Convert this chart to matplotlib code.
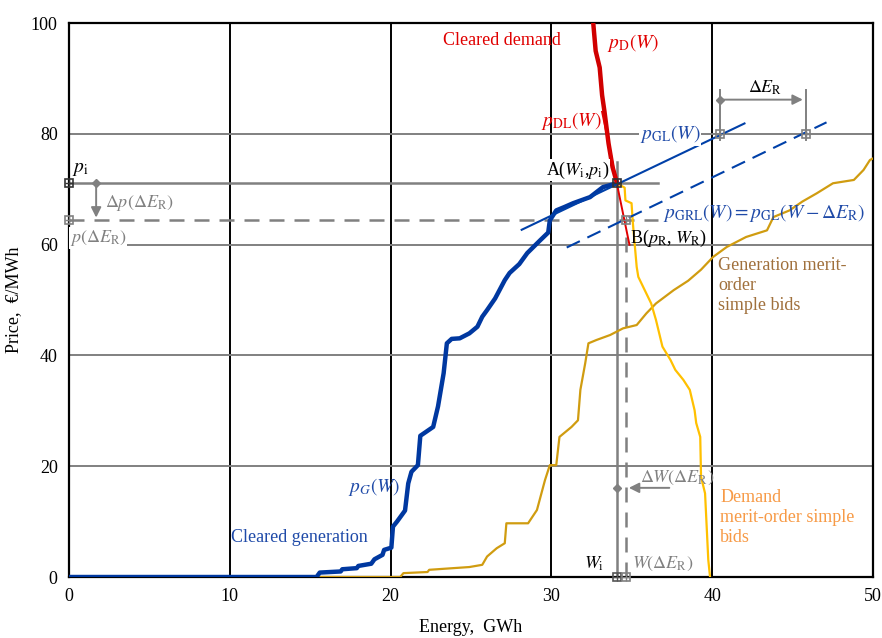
import matplotlib
matplotlib.use("Agg")
import matplotlib.pyplot as plt

plt.rcParams['font.family'] = ['Liberation Serif', 'DejaVu Serif']
plt.rcParams['mathtext.fontset'] = 'stix'

# ---------------- data ----------------
gen_cleared_x = [0, 15.4, 15.6, 16.9, 17.0, 17.9, 18.0, 18.8, 19.0, 19.5, 19.6, 20.05, 20.15, 20.4, 20.9, 21.1,
                 21.3, 21.7, 21.85, 22.2, 22.65, 22.95, 23.3, 23.5, 23.8, 24.3, 24.9, 25.4, 25.7, 26.0, 26.5,
                 27.1, 27.4, 28.0, 28.5, 29.3, 29.8, 29.9, 30.3, 30.8, 31.35, 32.4, 33.2, 34.08]
gen_cleared_y = [0, 0, 0.8, 1.0, 1.4, 1.6, 2.0, 2.4, 3.2, 4.0, 4.9, 5.3, 9.1, 10.0, 12.0, 16.9,
                 19.0, 20.2, 25.5, 26.2, 27.1, 30.8, 36.8, 42.2, 43.0, 43.1, 44.0, 45.2, 47.0, 48.2, 50.3,
                 53.6, 54.9, 56.5, 58.5, 60.8, 62.2, 64.4, 66.2, 66.8, 67.5, 68.6, 70.4, 71.1]

dem_cleared_x = [32.6, 32.75, 33.0, 33.15, 33.3, 33.55, 33.8, 34.08]
dem_cleared_y = [100, 95, 92, 87, 84, 78.3, 74, 71.1]

dem_bids_x = [32.6, 32.75, 33.0, 33.15, 33.3, 33.55, 33.8, 34.08, 34.55, 34.6, 34.98, 35.05, 35.1, 35.3, 35.4,
              35.8, 36.2, 36.5, 36.9, 37.4, 37.7, 38.2, 38.6, 38.9, 39.0, 39.25, 39.3, 39.55, 39.65, 39.75, 39.86]
dem_bids_y = [100, 95, 92, 87, 84, 78.3, 74, 71.1, 70.3, 68.0, 67.5, 64.4, 62.6, 56.0, 54.2,
              51.8, 49.4, 46.4, 41.6, 39.2, 37.4, 35.6, 33.8, 30.1, 27.8, 25.3, 18.1, 15.1, 9.1, 3.1, 0]

gen_bids_x = [0, 20.6, 20.8, 22.3, 22.4, 24.9, 25.7, 26.0, 26.6, 27.1, 27.2, 28.55, 29.1, 29.6, 29.9, 30.3,
              30.5, 31.25, 31.65, 31.8, 32.1, 32.3, 32.8, 33.65, 34.45, 35.3, 35.9, 36.5, 37.6, 38.5, 39.3,
              40.05, 40.9, 42.1, 43.4, 43.8, 44.8, 45.6, 46.5, 47.5, 48.8, 49.4, 49.8, 50.0]
gen_bids_y = [0, 0, 0.7, 0.9, 1.3, 1.8, 2.2, 3.7, 5.2, 6.1, 9.7, 9.7, 12.1, 17.5, 20.2, 20.2,
              25.3, 27.1, 28.3, 33.8, 38.6, 42.2, 42.8, 43.7, 44.9, 45.5, 47.6, 49.4, 51.8, 53.5, 55.5,
              57.8, 59.6, 61.4, 62.6, 65.0, 66.2, 67.8, 69.3, 71.1, 71.7, 73.5, 75.3, 75.6]

pdl_x = [33.15, 34.85]
pdl_y = [84.0, 60.0]

pgl_x = [28.15, 42.0]
pgl_y = [62.7, 81.9]
delta_E = 5.3
pgrl_x = [30.95, 47.1]
pgrl_y = [59.5, 82.1]

W_i, p_i = 34.08, 71.1
W_R, p_R = 34.64, 64.4
p_line_end = 36.6
dE_left, dE_right, dE_y = 40.5, 45.8, 86.2
dW_y = 16.1
dp_x = 1.7

xticks = [0, 10, 20, 30, 40, 50]
yticks = [0, 20, 40, 60, 80, 100]

# ---------------- colours ----------------
BLUE = '#0038A0'
BLUE_T = '#1F4AA8'
RED = '#E00000'
YEL = '#FFC000'
GOLD = '#D09C10'
GRAY = '#808080'
BROWN = '#A0703C'
ORANGE = '#F79A46'

fig = plt.figure(figsize=(8.82, 6.38), dpi=100)
ax = fig.add_axes([0.078, 0.0956, 0.912, 0.868])
ax.set_xlim(0, 50)
ax.set_ylim(0, 100)

# grid
for x in xticks[1:-1]:
    ax.axvline(x, color='black', lw=1.4, zorder=1)
for y in yticks[1:-1]:
    ax.axhline(y, color=GRAY, lw=1.4, zorder=1)
for s in ax.spines.values():
    s.set_color('black')
    s.set_linewidth(1.6)

ax.set_xticks(xticks)
ax.set_yticks(yticks)
ax.tick_params(length=0, labelsize=13, pad=8)
ax.set_xlabel('Energy,  GWh', fontsize=13, labelpad=10)
ax.set_ylabel('Price,  €/MWh', fontsize=13, labelpad=6)

# reference lines
ax.plot([0, p_line_end], [p_i, p_i], color=GRAY, lw=1.8, zorder=2)
ax.plot([0, p_line_end], [p_R, p_R], color=GRAY, lw=1.8, ls=(0, (6, 4)), zorder=2)
ax.plot([W_i, W_i], [0, 75], color=GRAY, lw=1.8, zorder=2)
ax.plot([W_R, W_R], [0, 62], color=GRAY, lw=1.8, ls=(0, (6, 4)), zorder=2)

# curves
ax.plot(gen_bids_x, gen_bids_y, color=GOLD, lw=1.6, zorder=3)
ax.plot(dem_bids_x, dem_bids_y, color=YEL, lw=1.6, zorder=3)
ax.plot(gen_cleared_x, gen_cleared_y, color=BLUE, lw=3.2, zorder=4, solid_joinstyle='round')
ax.plot(dem_cleared_x, dem_cleared_y, color='#D00000', lw=3.2, zorder=4)
ax.plot(pdl_x, pdl_y, color=RED, lw=1.4, zorder=5)
ax.plot(pgl_x, pgl_y, color='#0040A8', lw=1.5, zorder=5)
ax.plot(pgrl_x, pgrl_y, color='#0040A8', lw=1.5, ls=(0, (7, 4)), zorder=5)

# delta E arrow
ax.plot([dE_left, dE_left], [79, 88], color=GRAY, lw=1.4, zorder=5)
ax.plot([dE_right, dE_right], [79, 88], color=GRAY, lw=1.4, zorder=5)
ax.annotate('', xy=(dE_right, dE_y), xytext=(dE_left, dE_y),
            arrowprops=dict(arrowstyle='-|>', color=GRAY, lw=1.4, mutation_scale=15), zorder=6)
ax.plot([dE_left], [dE_y], marker='D', ms=4, color=GRAY, zorder=6)

# delta p arrow
ax.annotate('', xy=(dp_x, p_R), xytext=(dp_x, p_i),
            arrowprops=dict(arrowstyle='-|>', color=GRAY, lw=1.4, mutation_scale=15), zorder=6)
ax.plot([dp_x], [p_i], marker='D', ms=4, color=GRAY, zorder=6)

# delta W arrow
ax.annotate('', xy=(W_R, dW_y), xytext=(37.5, dW_y),
            arrowprops=dict(arrowstyle='-|>', color=GRAY, lw=1.4, mutation_scale=15), zorder=6)
ax.plot([W_i], [dW_y], marker='D', ms=4, color=GRAY, zorder=6)

# square markers
def sq(x, y, c):
    ax.plot([x], [y], marker='s', ms=6, mfc='none', mec=c, mew=1.2, zorder=7, clip_on=False)
    ax.plot([x], [y], marker='+', ms=6, color=c, mew=1.0, zorder=7, clip_on=False)

sq(0, p_i, '#333333')
sq(0, p_R, GRAY)
sq(W_i, 0, '#555555')
sq(W_R, 0, GRAY)
sq(W_i, p_i, '#333333')
sq(W_R, p_R, GRAY)
sq(dE_left, 80, GRAY)
sq(dE_right, 80, GRAY)

# texts
fs = 13
wb = dict(facecolor='white', edgecolor='none', pad=0.5)
ax.text(23.26, 96.9, 'Cleared demand', color=RED, fontsize=fs, va='center')
ax.text(33.46, 96.4, r'$p_{\mathrm{D}}(W)$', color=RED, fontsize=fs + 1, va='center')
ax.text(29.35, 82.3, r'$p_{\mathrm{DL}}(W)$', color=RED, fontsize=fs + 1, va='center')
ax.text(35.5, 80.0, r'$p_{\mathrm{GL}}(W)$', color=BLUE_T, fontsize=fs + 1, va='center', bbox=wb, zorder=6)
ax.text(29.66, 73.5, r'A($W_{\mathrm{i}}$,$p_{\mathrm{i}}$)', color='black', fontsize=fs, va='center', bbox=wb, zorder=6)
ax.text(36.94, 65.7, r'$p_{\mathrm{GRL}}(W) = p_{\mathrm{GL}}(W - \Delta E_{\mathrm{R}})$', color=BLUE_T,
        fontsize=fs + 1, va='center', zorder=6)
ax.text(34.9, 61.2, r'B($p_{\mathrm{R}}$, $W_{\mathrm{R}}$)', color='black', fontsize=fs, va='center', zorder=6)
ax.text(40.36, 57.8, 'Generation merit-\norder\nsimple bids', color=BROWN, fontsize=fs, va='top',
        linespacing=1.25, zorder=6)
ax.text(40.5, 15.9, 'Demand\nmerit-order simple\nbids', color=ORANGE, fontsize=fs, va='top',
        linespacing=1.25, zorder=6)
ax.text(10.07, 7.2, 'Cleared generation', color=BLUE_T, fontsize=fs, va='center', zorder=6)
ax.text(17.35, 16.2, r'$p_G(W)$', color=BLUE_T, fontsize=fs + 1, va='center', zorder=6)
ax.text(0.19, 73.6, r'$p_{\mathrm{i}}$', color='black', fontsize=fs + 1, va='center', zorder=6)
ax.text(2.24, 67.5, r'$\Delta p(\Delta E_{\mathrm{R}})$', color=GRAY, fontsize=fs, va='center', zorder=6)
ax.text(0.06, 61.2, r'$p(\Delta E_{\mathrm{R}})$', color=GRAY, fontsize=fs, va='center', bbox=wb, zorder=6)
ax.text(42.2, 88.4, r'$\Delta E_{\mathrm{R}}$', color='black', fontsize=fs, va='center', zorder=6)
ax.text(35.5, 17.9, r'$\Delta W(\Delta E_{\mathrm{R}})$', color=GRAY, fontsize=fs, va='center', zorder=6)
ax.text(33.3, 2.4, r'$W_{\mathrm{i}}$', color='black', fontsize=fs, va='center', ha='right', zorder=6)
ax.text(35.0, 2.3, r'$W(\Delta E_{\mathrm{R}})$', color=GRAY, fontsize=fs, va='center', zorder=6)

fig.savefig('out.png', dpi=100)
